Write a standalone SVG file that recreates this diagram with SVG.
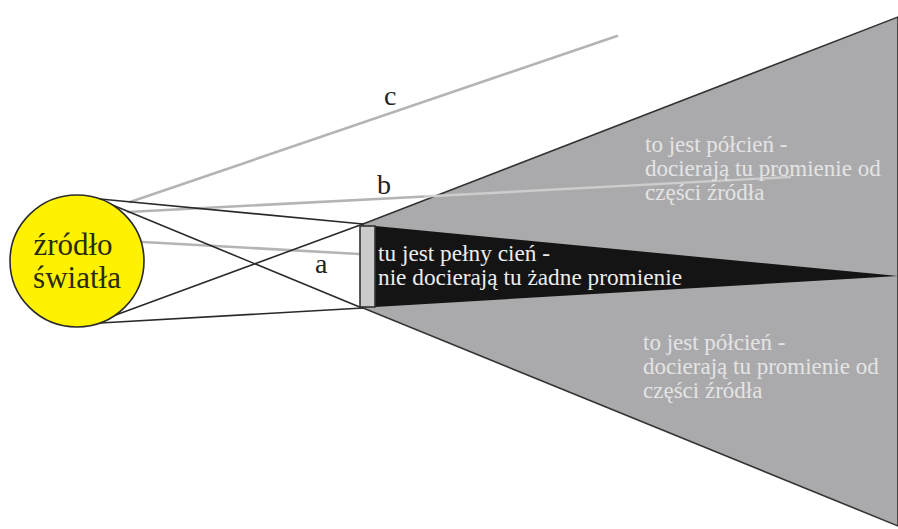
<svg xmlns="http://www.w3.org/2000/svg" width="898" height="529" viewBox="0 0 898 529">
<style>
.bk{stroke:#2a2a2a;stroke-width:1.6;fill:none;stroke-linecap:round}
.gr{stroke:#b4b4b4;stroke-width:2.6;fill:none;stroke-linecap:round}
text{font-family:"Liberation Serif","DejaVu Serif","Noto Serif",serif}
.lbl{font-size:28px;fill:#222}
.pen{font-size:23px;fill:#e4e4e4}
.umb{font-size:23.3px;fill:#ececec}
.sun{font-size:31px;fill:#2a2a10}
</style>
<rect width="898" height="529" fill="#ffffff"/>
<g id="penumbra">
<polygon points="363,224 898,17 898,526 363,308" fill="#aaaaac" stroke="#333" stroke-width="1.6"/>
</g>
<g id="umbra">
<polygon points="375,226 898,276 375,307" fill="#151414"/>
</g>
<g id="connectors">
<line class="gr" x1="130" y1="202" x2="617" y2="36"/>
<line class="gr" x1="128" y1="212" x2="425" y2="196.5"/>
<line x1="425" y1="196.5" x2="790" y2="177" stroke="#cdcdcd" stroke-width="2.4" stroke-linecap="round"/>
<line class="gr" x1="143" y1="242" x2="359" y2="254"/>
<line class="bk" x1="100" y1="199" x2="363" y2="224"/>
<line class="bk" x1="110" y1="204" x2="362" y2="308"/>
<line class="bk" x1="113" y1="316" x2="363" y2="224"/>
<line class="bk" x1="100" y1="323" x2="363" y2="308"/>
</g>
<g id="object">
<rect x="360" y="226" width="15" height="81" fill="#cbcbcb" stroke="#333" stroke-width="1.6"/>
</g>
<g id="sun">
<ellipse cx="77" cy="261" rx="67" ry="66" fill="#fff200" stroke="#2a2a2a" stroke-width="1.6"/>
<text class="sun" x="73" y="255" text-anchor="middle" font-family="Liberation Serif, DejaVu Serif, serif">źródło</text>
<text class="sun" x="77" y="288" text-anchor="middle" font-family="Liberation Serif, DejaVu Serif, serif">światła</text>
</g>
<g id="labels" font-family="Liberation Serif, DejaVu Serif, serif">
<text class="lbl" x="384" y="105">c</text>
<text class="lbl" x="377" y="194">b</text>
<text class="lbl" x="315" y="273">a</text>
<text class="umb" x="378" y="261">tu jest pełny cień -</text>
<text class="umb" x="378" y="285">nie docierają tu żadne promienie</text>
<text class="pen" x="645" y="152">to jest półcień -</text>
<text class="pen" x="645" y="176">docierają tu promienie od</text>
<text class="pen" x="645" y="200">części źródła</text>
<text class="pen" x="643" y="350">to jest półcień -</text>
<text class="pen" x="643" y="374">docierają tu promienie od</text>
<text class="pen" x="643" y="398">części źródła</text>
</g>
</svg>
